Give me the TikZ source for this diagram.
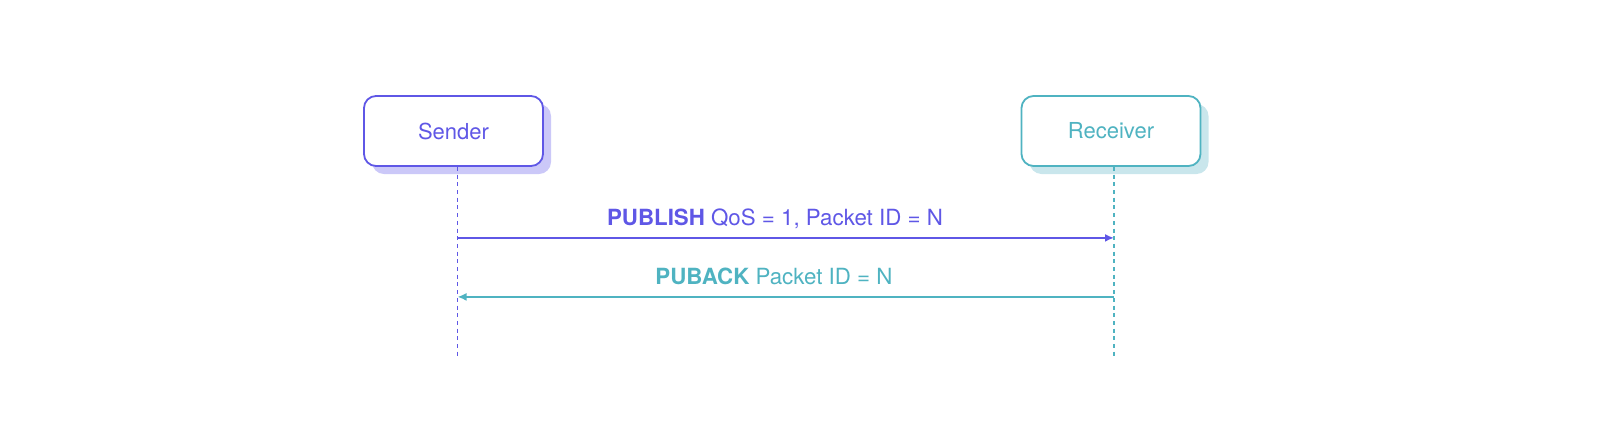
\documentclass[tikz,border=0pt]{standalone}
\usepackage{fontspec}
\setmainfont{TeX Gyre Heros}
\definecolor{sendpurple}{HTML}{5F57E6}
\definecolor{sendshadow}{HTML}{CBC8F8}
\definecolor{recvteal}{HTML}{4FB3C1}
\definecolor{recvshadow}{HTML}{C9E6EC}
\usetikzlibrary{arrows.meta, calc, positioning, shadows}

\begin{document}
\begin{tikzpicture}[x=1pt, y=-1pt,
	actor/.style={line width=1.8pt, rounded corners=12pt, fill=white,
		minimum width=179pt, minimum height=70pt, font=\fontsize{22}{26}\selectfont,
		drop shadow={shadow xshift=8pt, shadow yshift=-8pt, fill=#1, opacity=1}},
	lifeline/.style={line width=1.8pt, dash pattern=on 4pt off 3.7pt},
	msg/.style={line width=1.8pt, -{Latex[length=9pt, width=8pt]}},
	msglabel/.style={anchor=base, font=\fontsize{22.3}{26}\selectfont}]
	\useasboundingbox (0,0) rectangle (1610,432);
	\pgfmathsetmacro{\lifelen}{189}
	
	% Actors
	\node[actor=sendshadow, draw=sendpurple, text=sendpurple] (sender) at (453.5,131) {Sender};
	\node[actor=recvshadow, draw=recvteal, text=recvteal] (receiver) at (1111,131) {Receiver};
	
	% Lifelines
	\coordinate (sl) at ([xshift=4pt]sender.south);
	\coordinate (rl) at ([xshift=3pt]receiver.south);
	\coordinate (sl end) at ($(sl)+(0,\lifelen)$);
	\coordinate (rl end) at ($(rl)+(0,\lifelen)$);
	\draw[lifeline, sendpurple] (sl) -- (sl end);
	\draw[lifeline, recvteal] (rl) -- (rl end);
	
	% Messages
	\coordinate (pub start) at ($(sl)+(0,71)$);
	\coordinate (pub end) at (pub start -| rl);
	\coordinate (ack start) at ($(rl)+(0,130)$);
	\coordinate (ack end) at (ack start -| sl);
	\draw[msg, sendpurple] (pub start) -- (pub end);
	\draw[msg, recvteal] (ack start) -- (ack end);
	
	\node[msglabel, text=sendpurple] (publabel) at (775,225) {\textbf{PUBLISH} QoS = 1, Packet ID = N};
	\node[msglabel, text=recvteal] (acklabel) at (774,284) {\textbf{PUBACK} Packet ID = N};
	
\end{tikzpicture}
\end{document}
